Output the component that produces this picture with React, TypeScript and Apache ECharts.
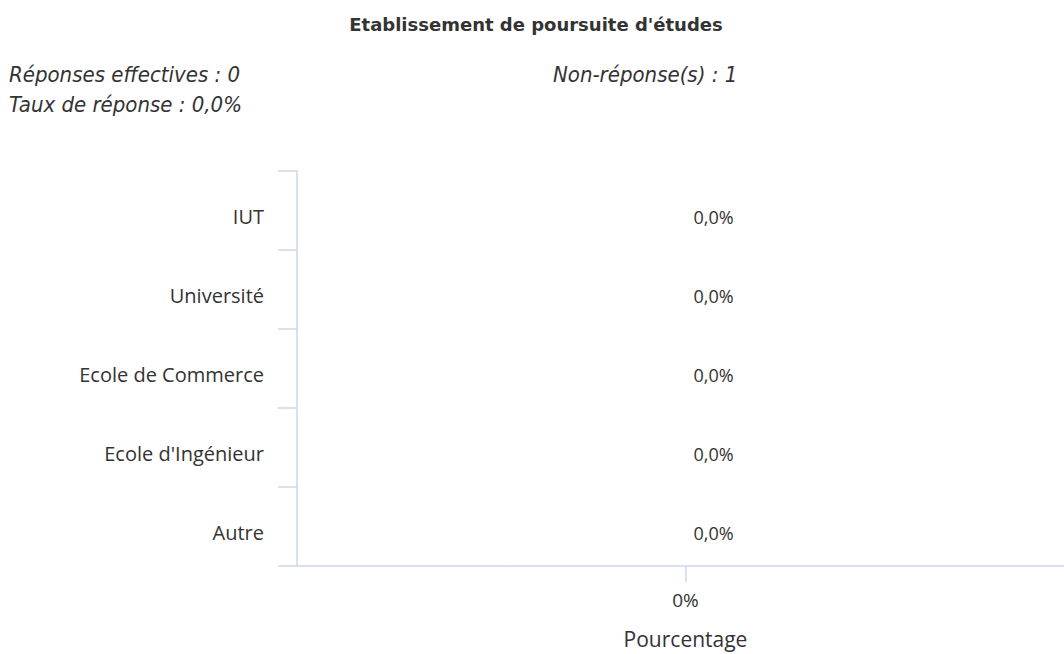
import React, { useEffect, useRef } from "react";
import * as echarts from "echarts";

const categories = ["IUT", "Université", "Ecole de Commerce", "Ecole d'Ingénieur", "Autre"];
const values = [0, 0, 0, 0, 0];
const valueLabels = ["0,0%", "0,0%", "0,0%", "0,0%", "0,0%"];
const xTickValues = [0];

const titleText = "Etablissement de poursuite d'études";
const infoLeft = ["Réponses effectives : 0", "Taux de réponse : 0,0%"];
const infoRight = "Non-réponse(s) : 1";
const xAxisName = "Pourcentage";

export default function App() {
  const ref = useRef<HTMLDivElement>(null);
  useEffect(() => {
    document.body.style.margin = "0";
    document.body.style.overflow = "hidden";
    const chart = echarts.init(ref.current!, null, { renderer: "svg" });
    const axisColor = "#ccd6eb";
    const font = "'Open Sans', sans-serif";
    const italicFont = "italic 22px 'DejaVu Sans Condensed', 'DejaVu Sans', sans-serif";
    chart.setOption({
      animation: false,
      title: {
        text: titleText,
        left: 531,
        top: 10,
        textAlign: "center",
        textStyle: { fontFamily: "'DejaVu Sans', sans-serif", fontSize: 18, fontWeight: "bold", color: "#333333" },
      },
      graphic: [
        { type: "text", left: 9, top: 63, style: { text: infoLeft[0], font: italicFont, fill: "#333333" } },
        { type: "text", left: 9, top: 93, style: { text: infoLeft[1], font: italicFont, fill: "#333333" } },
        { type: "text", left: 553, top: 63, style: { text: infoRight, font: italicFont, fill: "#333333" } },
      ],
      grid: { left: 297, right: 0, top: 171, bottom: 86, containLabel: false },
      xAxis: {
        type: "value",
        min: -1,
        max: 1,
        name: xAxisName,
        nameLocation: "middle",
        nameGap: 62,
        nameTextStyle: { fontFamily: font, fontSize: 21, color: "#333333" },
        axisLine: { show: true, onZero: false, lineStyle: { color: axisColor, width: 1.5 } },
        axisTick: { show: true, customValues: xTickValues, length: 16, lineStyle: { color: axisColor, width: 1.5 } },
        axisLabel: { customValues: xTickValues, formatter: (v: number) => v + "%", fontFamily: font, fontSize: 19, color: "#333333", margin: 24 },
        splitLine: { show: false },
      },
      yAxis: {
        type: "category",
        inverse: true,
        data: categories,
        axisLine: { show: true, onZero: false, lineStyle: { color: axisColor, width: 1.5 } },
        axisTick: { show: true, length: 19, lineStyle: { color: axisColor, width: 1.5 } },
        axisLabel: { fontFamily: font, fontSize: 20, color: "#333333", margin: 33, verticalAlign: "top", lineHeight: 12 },
      },
      series: [
        {
          type: "bar",
          data: values,
          barWidth: "60%",
          itemStyle: { color: "#7cb5ec" },
          label: {
            show: true,
            position: "right",
            distance: 8,
            offset: [0, 6],
            formatter: (p: any) => valueLabels[p.dataIndex],
            fontFamily: font,
            fontSize: 18,
            color: "#333333",
          },
        },
      ],
    });
    return () => chart.dispose();
  }, []);
  return <div ref={ref} style={{ width: 1074, height: 654 }} />;
}
